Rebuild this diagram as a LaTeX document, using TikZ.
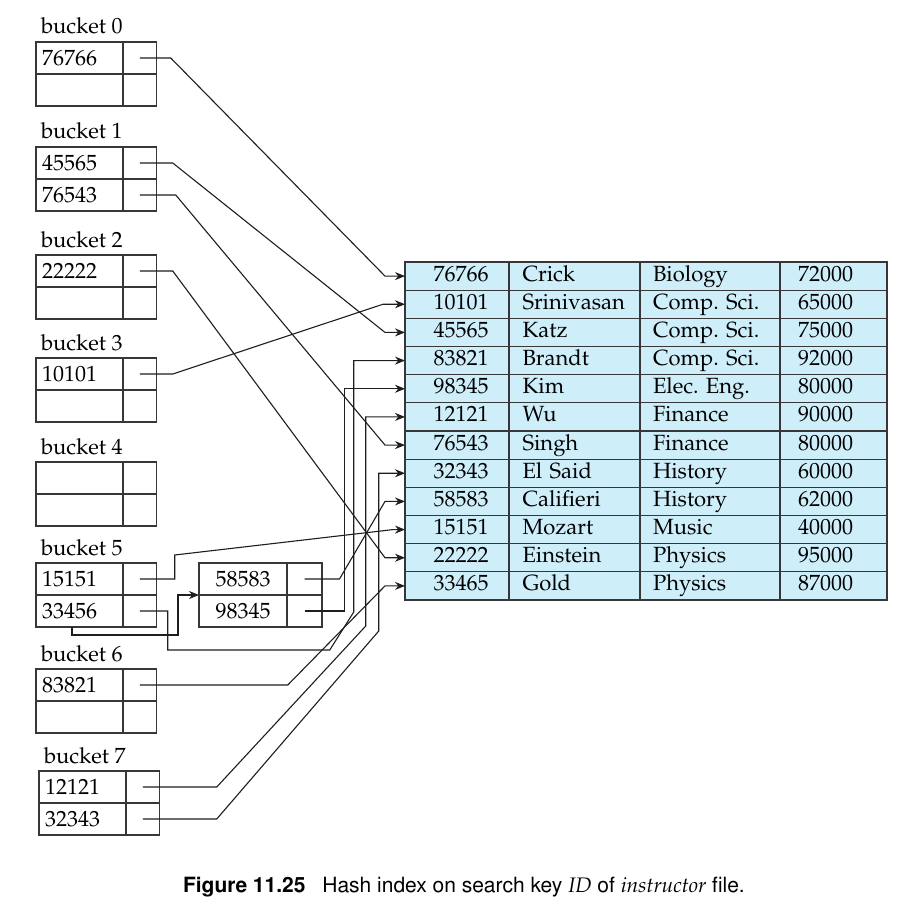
\documentclass[tikz,border=0pt]{standalone}
\usepackage[T1]{fontenc}
\usepackage{mathpazo}
\usetikzlibrary{arrows.meta}
\definecolor{tblue}{RGB}{206,238,250}
\definecolor{bgray}{RGB}{55,55,55}
\definecolor{lblack}{RGB}{30,30,30}
\newcommand{\bkt}[6]{%
  \node[cellk] (#1k1) at (#2,#3) {#5};
  \node[cellp] (#1p1) at (#1k1.north east) {};
  \node[cellk] (#1k2) at (#1k1.south west) {#6};
  \node[cellp] (#1p2) at (#1k2.north east) {};
  \node[blabel] (#1l) at ([xshift=5pt,yshift=8pt]#1k1.north west) {#4};
}
\begin{document}
\begin{tikzpicture}[x=1pt,y=-1pt,
  every node/.style={font=\fontsize{22}{26}\selectfont\frenchspacing, outer sep=0pt},
  cellk/.style={draw=bgray, line width=1.3pt, rectangle, anchor=north west,
    minimum height=32pt, inner xsep=6pt, inner ysep=0pt, text width=75pt, align=left},
  cellp/.style={draw=bgray, line width=1.3pt, rectangle, anchor=north west,
    minimum height=32pt, minimum width=33.5pt, inner sep=0pt},
  cello/.style={draw=bgray, line width=1.3pt, rectangle, anchor=north west,
    minimum height=32pt, minimum width=88pt, inner sep=0pt},
  blabel/.style={anchor=base west, inner sep=0pt},
  tcell/.style={draw=bgray, fill=tblue, line width=1.3pt, rectangle, anchor=north west,
    minimum height=28.17pt, inner ysep=0pt, text height=15pt, text depth=5pt},
  ptr/.style={draw=lblack, line width=1.1pt, -{Stealth[length=10pt,width=8pt]}}
]
\fill[white] (0,0) rectangle (915,912);
\useasboundingbox (0,0) rectangle (915,912);

% buckets
\bkt{b0}{36}{42}{bucket 0}{76766}{}
\bkt{b1}{36}{147}{bucket 1}{45565}{76543}
\bkt{b2}{36}{255}{bucket 2}{22222}{}
\bkt{b3}{36}{358}{bucket 3}{10101}{}
\bkt{b4}{36}{462}{bucket 4}{}{}
\bkt{b5}{36}{563}{bucket 5}{15151}{33456}
\bkt{b6}{36}{669}{bucket 6}{83821}{}
\bkt{b7}{39}{771}{bucket 7}{12121}{32343}

% overflow bucket
\node[cello] (ovk1) at (199,563) {58583};
\node[cellp, minimum width=35pt] (ovp1) at (ovk1.north east) {};
\node[cello] (ovk2) at (ovk1.south west) {98345};
\node[cellp, minimum width=35pt] (ovp2) at (ovk2.north east) {};

% instructor table
\foreach \i/\a/\b/\c/\d in {1/76766/Crick/Biology/72000,
  2/10101/Srinivasan/Comp. Sci./65000,
  3/45565/Katz/Comp. Sci./75000,
  4/83821/Brandt/Comp. Sci./92000,
  5/98345/Kim/Elec. Eng./80000,
  6/12121/Wu/Finance/90000,
  7/76543/Singh/Finance/80000,
  8/32343/El Said/History/60000,
  9/58583/Califieri/History/62000,
  10/15151/Mozart/Music/40000,
  11/22222/Einstein/Physics/95000,
  12/33465/Gold/Physics/87000}{
  \pgfmathsetmacro{\yy}{262+(\i-1)*28.1667}
  \node[tcell, minimum width=104pt, inner xsep=0pt] (id\i) at (405,\yy) {\hspace*{8pt}\a};
  \node[tcell, text width=104pt, inner xsep=13.5pt, align=left] (nm\i) at (id\i.north east) {\b};
  \node[tcell, text width=114pt, inner xsep=13pt, align=left] (dp\i) at (nm\i.north east) {\c};
  \node[tcell, minimum width=107pt, inner xsep=0pt] (sl\i) at (dp\i.north east) {\d\hspace*{16pt}};
}

% pointers
\draw[ptr] (b0p1.center) -- ++(31,0) -- ([xshift=-20pt]id1.west) -- (id1.west);
\draw[ptr] (b1p1.center) -- ++(33,0) -- ([xshift=-20pt]id3.west) -- (id3.west);
\draw[ptr] (b1p2.center) -- ++(36,0) -- ([xshift=-20pt]id7.west) -- (id7.west);
\draw[ptr] (b2p1.center) -- ++(33,0) -- ([xshift=-20pt]id11.west) -- (id11.west);
\draw[ptr] (b3p1.center) -- ++(33,0) -- ([xshift=-22pt]id2.west) -- (id2.west);
\draw[ptr] (b5p1.center) -- ++(35,0) -- ++(0,-24) -- ([xshift=-12pt]id10.west) -- (id10.west);
\draw[ptr] ([xshift=36pt]b5k2.south west) -- ++(0,8) -- ++(106,0) |- (ovk1.south west);
\draw[ptr] (b5p2.center) -- ++(28,0) -- ++(0,39) -- ++(162,0) -- ++(24,-38) |- (id4.west);
\draw[ptr] (ovp1.center) -- ++(35,0) -- ([xshift=-20pt]id9.west) -- (id9.west);
\draw[ptr] (ovp2.center) -- ++(40,0) |- (id5.west);
\draw[ptr] (b6p1.center) -- ++(148,0) -- ([xshift=-20pt]id12.west) -- (id12.west);
\draw[ptr] (b7p1.center) -- ++(74,0) -- ++(149,-161) |- (id6.west);
\draw[ptr] (b7p2.center) -- ++(74,0) -- ++(162,-188) |- (id8.west);

% caption
\node[anchor=base west, inner sep=0pt, font=\fontsize{21}{24}\fontfamily{phv}\selectfont] (cap) at (183,892)
  {\textbf{Figure 11.25}\hspace{0.8em}Hash index on search key {\fontfamily{ppl}\itshape ID} of {\fontfamily{ppl}\itshape instructor} file.};
\end{tikzpicture}
\end{document}
